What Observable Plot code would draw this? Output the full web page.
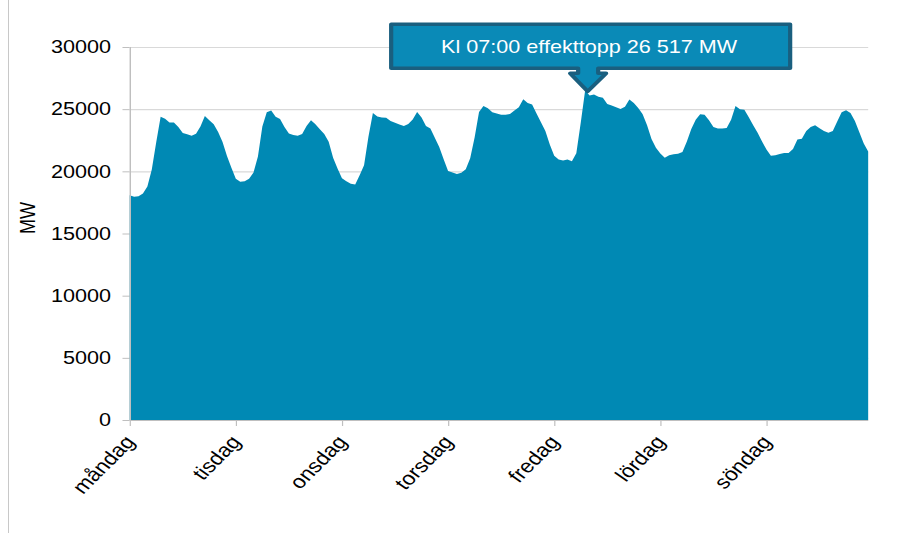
<!DOCTYPE html>
<html>
<head>
<meta charset="utf-8">
<script src="https://cdn.jsdelivr.net/npm/d3@7"></script>
<script src="https://cdn.jsdelivr.net/npm/@observablehq/plot@0.6"></script>
<style>
  html, body { margin: 0; padding: 0; background: #fff; }
  #wrap { position: relative; width: 903px; height: 533px; overflow: hidden; }
  #border { position: absolute; left: 8px; top: 0; width: 1px; height: 533px; background: #c8c8c8; }
  #wrap svg g[aria-label*="axis"] text { fill: #000; }
  #wrap svg g[aria-label*="x-axis"] text { font-size: 19px; }
</style>
</head>
<body>
<div id="wrap"><div id="border"></div></div>
<script>
// ---- data (hourly load, MW, Monday 00:00 .. Sunday 23:00) ----
const days = ["måndag", "tisdag", "onsdag", "torsdag", "fredag", "lördag", "söndag"];
const dayTicks = [0, 24, 48, 72, 96, 120, 144];
const yTicks = [0, 5000, 10000, 15000, 20000, 25000, 30000];

const monday    = [18080, 17950, 17990, 18220, 18780, 20150, 22330, 24400, 24230, 23920, 23920, 23570,
                   23090, 22980, 22860, 23030, 23600, 24450, 24100, 23780, 23170, 22360, 21230, 20280];
const tuesday   = [19400, 19160, 19200, 19400, 19900, 21200, 23600, 24750, 24900, 24400, 24200, 23570,
                   23050, 22920, 22870, 23000, 23650, 24110, 23780, 23380, 23000, 22370, 21100, 20230];
const wednesday = [19450, 19200, 19000, 18940, 19690, 20490, 22800, 24700, 24420, 24320, 24300, 24050,
                   23900, 23770, 23640, 23800, 24160, 24780, 24320, 23650, 23440, 22700, 21960, 20970];
const thursday  = [20030, 19900, 19790, 19880, 20170, 21060, 22720, 24780, 25250, 25080, 24760, 24650,
                   24560, 24560, 24620, 24900, 25150, 25800, 25500, 25380, 24650, 23950, 23250, 22150];
const friday    = [21250, 20950, 20880, 20950, 20820, 21450, 23900, 26517, 26100, 26170, 26000, 25920,
                   25420, 25300, 25150, 25020, 25200, 25770, 25500, 25100, 24600, 23700, 22600, 21900];
const saturday  = [21430, 21100, 21300, 21370, 21420, 21560, 22400, 23400, 24150, 24600, 24550, 24100,
                   23560, 23450, 23440, 23480, 24150, 25260, 24990, 24950, 24350, 23700, 23100, 22400];
const sunday    = [21750, 21250, 21290, 21400, 21480, 21480, 21800, 22560, 22630, 23250, 23560, 23710,
                   23470, 23250, 23100, 23250, 24000, 24750, 24910, 24700, 24050, 23150, 22230, 21600];

const load = [...monday, ...tuesday, ...wednesday, ...thursday, ...friday, ...saturday, ...sunday];
const data = load.map((mw, hour) => ({hour, mw}));

// ---- layout (drawn in a 752-wide space, stretched to 903 like the reference) ----
const W = 752, H = 533, OUTW = 903;
const kx = W / OUTW; // horizontal compression factor for pixel offsets
const FONT = "'Liberation Sans', Arial, Helvetica, sans-serif";

const plot = Plot.plot({
  width: W,
  height: H,
  marginLeft: 108,
  marginRight: 29,
  marginTop: 47,
  marginBottom: 113,
  x: {
    domain: [0, load.length - 1],
    ticks: dayTicks,
    tickFormat: d => days[Math.round(d / 24)],
    tickRotate: -50,
    tickSize: 6,
    tickPadding: 12,
    label: null
  },
  y: {
    domain: [0, 30000],
    ticks: yTicks,
    tickFormat: d => String(d),
    tickSize: 6,
    tickPadding: 10,
    label: null
  },
  marks: [
    Plot.ruleY(yTicks, {stroke: "#d9d9d9", strokeWidth: 1.2}),
    Plot.areaY(data, {x: "hour", y: "mw", fill: "#0089b4", curve: "linear"}),
    Plot.ruleX([0], {stroke: "#bfbfbf", strokeWidth: 1.2}),
    Plot.ruleY([0], {stroke: "#bfbfbf", strokeWidth: 1.2}),
    Plot.text(["MW"], {text: d => d, frameAnchor: "left", dx: -85, rotate: -90, fill: "#000", fontSize: 18})
  ]
});

plot.style.fontFamily = FONT;
plot.style.fontSize = "18px";
plot.style.color = "#bfbfbf";
plot.style.background = "transparent";
plot.style.width = OUTW + "px";
plot.style.height = H + "px";
plot.style.maxWidth = "none";
plot.setAttribute("width", OUTW);
plot.setAttribute("height", H);
plot.setAttribute("viewBox", `0 0 ${W} ${H}`);
plot.setAttribute("preserveAspectRatio", "none");

// ---- peak callout, positioned from the plot's scales ----
const peakVal = d3.max(load);
const peakHour = load.indexOf(peakVal);
const xs = plot.scale("x"), ys = plot.scale("y");
const xf = xs.apply ? (v => xs.apply(v)) : d3.scaleLinear(xs.domain, xs.range);
const yf = ys.apply ? (v => ys.apply(v)) : d3.scaleLinear(ys.domain, ys.range);
const px = xf(peakHour), py = yf(peakVal);

const L = px - 194 * kx, R = px + 205 * kx;
const T = py - 66, B = py - 22;
const ax = px + 3 * kx;
const sw = 10 * kx, hw = 18 * kx, hs = 5;
const tipX = px + 2.5 * kx, tipY = py + 1;

const svg = d3.select(plot);
const g = svg.append("g").attr("aria-label", "callout");
g.append("path")
  .attr("d", `M${L},${T}L${R},${T}L${R},${B}L${ax + sw},${B}L${ax + sw},${B + hs}L${ax + hw},${B + hs}` +
             `L${tipX},${tipY}L${ax - hw},${B + hs}L${ax - sw},${B + hs}L${ax - sw},${B}L${L},${B}Z`)
  .attr("fill", "#0a8ab7")
  .attr("stroke", "#1a5f7f")
  .attr("stroke-width", 3.5)
  .attr("stroke-linejoin", "round");

const hh = String(peakHour % 24).padStart(2, "0");
const valStr = d3.format(",")(peakVal).replace(/,/g, " ");
g.append("text")
  .attr("x", (L + R) / 2 - 1.5 * kx)
  .attr("y", (T + B) / 2)
  .attr("dy", "0.36em")
  .attr("text-anchor", "middle")
  .attr("fill", "#fff")
  .attr("font-size", 18)
  .attr("font-family", FONT)
  .text(`Kl ${hh}:00 effekttopp ${valStr} MW`);

document.getElementById("wrap").appendChild(plot);
</script>
</body>
</html>
